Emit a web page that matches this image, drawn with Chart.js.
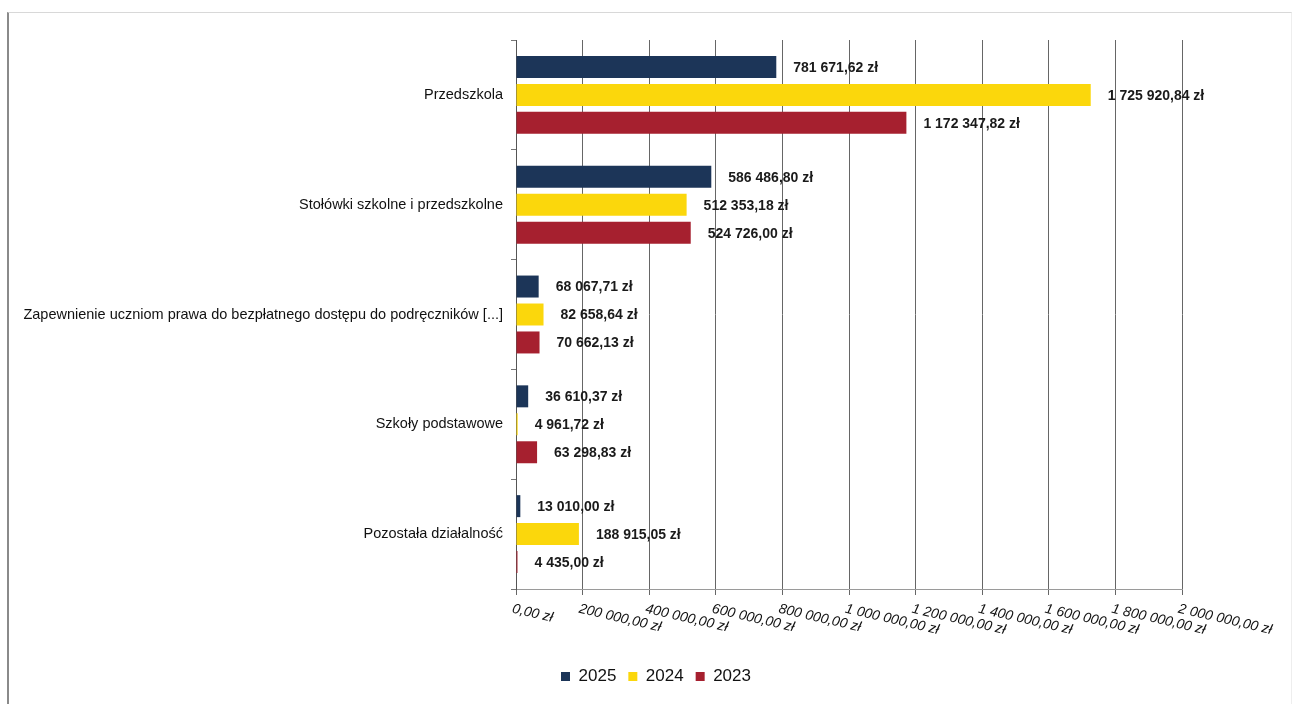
<!DOCTYPE html>
<html>
<head>
<meta charset="utf-8">
<script src="https://cdn.jsdelivr.net/npm/chart.js@4.4.1/dist/chart.umd.min.js"></script>
<style>
  body { margin: 0; background: #fff; }
  #wrap { position: absolute; left: 0; top: 0; width: 1295px; height: 704px; }
  #frame { position: absolute; left: 7px; top: 12px; width: 1282px; height: 700px;
           border-left: 2px solid #8a8a8a; border-top: 1px solid #d8d8d8; border-right: 1px solid #eee;
           pointer-events: none; }
</style>
</head>
<body>
<div id="wrap"><canvas id="chart" width="1295" height="704"></canvas></div>
<div id="frame"></div>
<script>
const categories = [
  'Przedszkola',
  'Stołówki szkolne i przedszkolne',
  'Zapewnienie uczniom prawa do bezpłatnego dostępu do podręczników [...]',
  'Szkoły podstawowe',
  'Pozostała działalność'
];
const years = ['2025', '2024', '2023'];
const values2025 = [781671.62, 586486.80, 68067.71, 36610.37, 13010.00];
const values2024 = [1725920.84, 512353.18, 82658.64, 4961.72, 188915.05];
const values2023 = [1172347.82, 524726.00, 70662.13, 63298.83, 4435.00];
const colors = ['#1c3558', '#fbd70c', '#a6202f'];
const xMax = 2000000;
const xStep = 200000;

function zl(v) {
  let parts = v.toFixed(2).split('.');
  let intPart = parts[0].replace(/\B(?=(\d{3})+(?!\d))/g, ' ');
  return intPart + ',' + parts[1] + ' zł';
}

// value labels next to the bars
const valueLabels = {
  id: 'valueLabels',
  afterDatasetsDraw(chart) {
    const ctx = chart.ctx;
    ctx.save();
    ctx.font = 'bold 14px "Liberation Sans", Arial, sans-serif';
    ctx.fillStyle = '#1a1a1a';
    ctx.textAlign = 'left';
    ctx.textBaseline = 'middle';
    chart.data.datasets.forEach((ds, i) => {
      const meta = chart.getDatasetMeta(i);
      meta.data.forEach((bar, j) => {
        ctx.fillText(zl(ds.data[j]), bar.x + 17, bar.y + 1);
      });
    });
    ctx.restore();
  }
};

// slanted x tick labels (going down to the right)
const slantTicks = {
  id: 'slantTicks',
  afterDraw(chart) {
    const ctx = chart.ctx;
    const scale = chart.scales.x;
    ctx.save();
    ctx.font = 'italic 14px "Liberation Sans", Arial, sans-serif';
    ctx.fillStyle = '#111';
    ctx.textAlign = 'left';
    ctx.textBaseline = 'top';
    scale.ticks.forEach(t => {
      const px = scale.getPixelForValue(t.value);
      ctx.save();
      ctx.translate(px - 2, scale.top + 13);
      ctx.rotate(13 * Math.PI / 180);
      ctx.fillText(zl(t.value), 0, 0);
      ctx.restore();
    });
    ctx.restore();
  }
};

// the legend sits a bit right of the canvas centre
const legendShift = {
  id: 'legendShift',
  afterLayout(chart) {
    const lg = chart.legend;
    if (!lg) return;
    lg.left += 60;
    lg.right += 60;
  }
};

const ctx = document.getElementById('chart').getContext('2d');
new Chart(ctx, {
  type: 'bar',
  data: {
    labels: categories,
    datasets: [
      { label: years[0], data: values2025, backgroundColor: colors[0] },
      { label: years[1], data: values2024, backgroundColor: colors[1] },
      { label: years[2], data: values2023, backgroundColor: colors[2] }
    ]
  },
  options: {
    indexAxis: 'y',
    responsive: false,
    animation: false,
    categoryPercentage: 0.764,
    barPercentage: 0.786,
    layout: { padding: { left: 10, right: 113, top: 40, bottom: 9 } },
    scales: {
      x: {
        min: 0,
        max: xMax,
        ticks: { stepSize: xStep, display: false },
        grid: { color: '#666', lineWidth: 1, tickLength: 6 },
        border: { color: '#9a9a9a' },
        afterFit(scale) { scale.height = 67; }
      },
      y: {
        ticks: {
          color: '#111',
          font: { family: '"Liberation Sans", Arial, sans-serif', size: 14.5 },
          padding: 8
        },
        grid: { drawOnChartArea: false, tickLength: 5, color: '#777' },
        border: { color: '#555' },
        afterFit(scale) { scale.width = 506; }
      }
    },
    plugins: {
      legend: {
        position: 'bottom',
        labels: {
          boxWidth: 9,
          boxHeight: 9,
          padding: 12,
          color: '#111',
          font: { family: '"Liberation Sans", Arial, sans-serif', size: 17 }
        }
      },
      tooltip: { enabled: false }
    }
  },
  plugins: [valueLabels, slantTicks, legendShift]
});
</script>
</body>
</html>
